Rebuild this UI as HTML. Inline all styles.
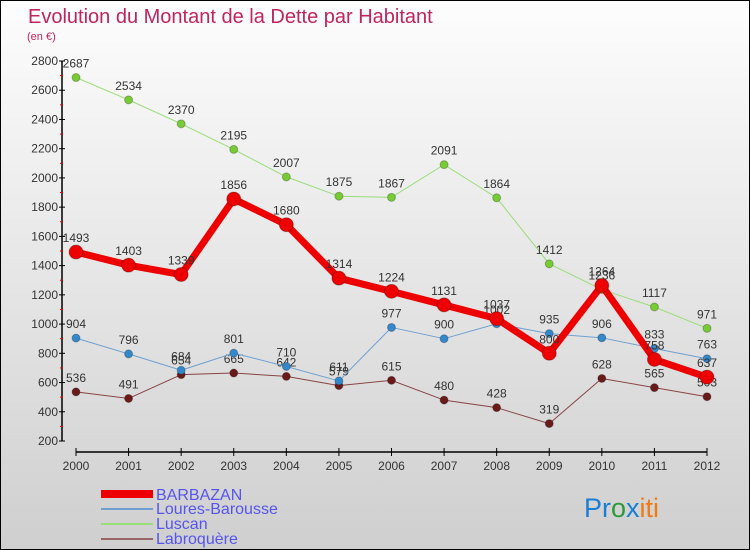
<!DOCTYPE html>
<html><head><meta charset="utf-8"><style>
body{margin:0}
#c{width:750px;height:550px;position:relative;overflow:hidden;box-sizing:border-box;border:1px solid #000;background:linear-gradient(#fdfdfd,#e6e6e6 50%,#cfcfcf);font-family:"Liberation Sans",sans-serif}
svg text{font-family:"Liberation Sans",sans-serif}
</style></head><body>
<div id="c">
<svg id="s" width="750" height="550">
<text x="27" y="22" font-size="20" fill="#c0245c">Evolution du Montant de la Dette par Habitant</text>
<text x="26" y="39" font-size="11" fill="#c0245c">(en €)</text>
<g id="axes"></g><g id="series"></g>
<g>
<rect x="100" y="489" width="52" height="8" fill="#e00"/>
<text x="155" y="499" font-size="16" fill="#5555ee">BARBAZAN</text>
<line x1="100" y1="508" x2="152" y2="508" stroke="#6fa0d0" stroke-width="2"/>
<text x="155" y="513" font-size="16" fill="#5555ee">Loures-Barousse</text>
<line x1="100" y1="523" x2="152" y2="523" stroke="#99dd77" stroke-width="2"/>
<text x="155" y="528" font-size="16" fill="#5555ee">Luscan</text>
<line x1="100" y1="538" x2="152" y2="538" stroke="#996666" stroke-width="2"/>
<text x="155" y="543" font-size="16" fill="#5555ee">Labroquère</text>
</g>
<text x="583" y="516" font-size="27"><tspan fill="#1a7fd4">Pr</tspan><tspan fill="#2a9a3a">o</tspan><tspan fill="#1a7fd4">x</tspan><tspan fill="#f07a10">iti</tspan></text>
</svg></div>
<script>
const years=["2000","2001","2002","2003","2004","2005","2006","2007","2008","2009","2010","2011","2012"];
const yTicks=[200,400,600,800,1000,1200,1400,1600,1800,2000,2200,2400,2600,2800];
const barbazan=[1493,1403,1339,1856,1680,1314,1224,1131,1037,800,1264,758,637];
const loures=[904,796,684,801,710,611,977,900,1002,935,906,833,763];
const luscan=[2687,2534,2370,2195,2007,1875,1867,2091,1864,1412,1236,1117,971];
const labroquere=[536,491,654,665,642,579,615,480,428,319,628,565,503];
const NS="http://www.w3.org/2000/svg";
const X=i=>75+i*(706-75)/12;
const Y=v=>440-(v-200)*380/2600;
function mk(t,a,p){const e=document.createElementNS(NS,t);for(const k in a)e.setAttribute(k,a[k]);p.appendChild(e);return e;}
const ax=document.getElementById('axes');
let e=mk('line',{x1:61,y1:60,x2:61,y2:440,stroke:'#000','stroke-width':1.5},ax);


e=mk('line',{x1:75,y1:451,x2:706,y2:451,stroke:'#000','stroke-width':1.5},ax);


yTicks.forEach((v,i)=>{
 mk('line',{x1:58,y1:Y(v),x2:64,y2:Y(v),stroke:'#000'},ax);
 if(i<yTicks.length-1) mk('line',{x1:59,y1:Y(v+100),x2:62,y2:Y(v+100),stroke:'#e00'},ax);
 const t=mk('text',{x:57,y:Y(v)+4,'font-size':12,fill:'#333','text-anchor':'end'},ax);t.textContent=v;
 
 
});
years.forEach((y,i)=>{
 mk('line',{x1:X(i),y1:447,x2:X(i),y2:455,stroke:'#000'},ax);
 const t=mk('text',{x:X(i),y:469,'font-size':12,fill:'#333','text-anchor':'middle'},ax);t.textContent=y;
 
 
});
const sg=document.getElementById('series');
function series(d,name,color,w,r,dot){
 const g=mk('g',{},sg);
 
 
 const pl=mk('polyline',{points:d.map((v,i)=>X(i)+','+Y(v)).join(' '),fill:'none',stroke:color,'stroke-width':w,'stroke-linejoin':'round'},g);
 
 
 d.forEach((v,i)=>{
  const c=mk('circle',{cx:X(i),cy:Y(v),r:r,fill:dot,stroke:'rgba(0,0,0,0.25)'},g);
  
  
  const t=mk('text',{x:X(i),y:Y(v)-10,'font-size':12,fill:'#333','text-anchor':'middle'},g);t.textContent=v;
  
  
 });
}
series(labroquere,'labroquere','#884444',1,4,'#6b1a1a');
series(loures,'loures','#6fa0d0',1,4,'#3388cc');
series(luscan,'luscan','#99dd77',1,4,'#77cc33');
series(barbazan,'barbazan','#ee0000',7,7,'#ee0000');
</script>
</body></html>
